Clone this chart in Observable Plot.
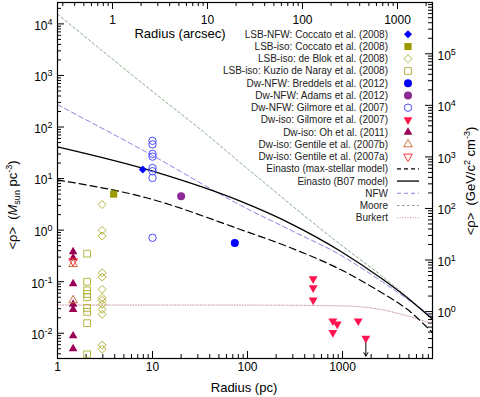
<!DOCTYPE html>
<html><head><meta charset="utf-8">
<script src="https://cdn.jsdelivr.net/npm/d3@7"></script>
<script src="https://cdn.jsdelivr.net/npm/@observablehq/plot@0.6"></script>
<style>
body{margin:0;background:#fff;}
svg{font-family:"Liberation Sans",Arial,Helvetica,sans-serif;}
</style>
</head><body><div id="chart"></div>
<script>
// ---- scales / conversion constants ----
const xDomain = [1, 8850];
const yDomain = [0.00324, 26000];
const pcPerArcsec = 3.79;
const gevPerMsun = 37.97;

// ---- tick values ----
const xMajor = [1, 10, 100, 1000];
const xMinor = [2,3,4,5,6,7,8,9,20,30,40,50,60,70,80,90,200,300,400,500,600,700,800,900,2000,3000,4000,5000,6000,7000,8000];
const arcMajor = [1, 10, 100, 1000];
const arcMinor = [0.3,0.4,0.5,0.6,0.7,0.8,0.9,2,3,4,5,6,7,8,9,20,30,40,50,60,70,80,90,200,300,400,500,600,700,800,900,2000];
const yMajorExp = [-2, -1, 0, 1, 2, 3, 4];
const gevMajorExp = [0, 1, 2, 3, 4, 5];

// ---- data (radius in pc, <rho> in Msun/pc^3) ----
const lsbNfwCoccatoX = [7.9], lsbNfwCoccatoY = [15];
const lsbIsoCoccatoX = [3.9], lsbIsoCoccatoY = [5.0];
const lsbIsoDeBlokX = 2.95;
const lsbIsoDeBlokY = [3.14, 0.99, 0.77, 0.149, 0.123, 0.071, 0.049, 0.0436, 0.0365, 0.029, 0.0233, 0.0059, 0.0049];
const lsbIsoKuzioX = 2.05;
const lsbIsoKuzioY = [0.35, 0.1, 0.068, 0.058, 0.05, 0.031, 0.026, 0.0157, 0.0039];
const dwNfwBreddelsX = [73.5], dwNfwBreddelsY = [0.56];
const dwNfwAdamsX = [20], dwNfwAdamsY = [4.55];
const dwNfwGilmoreX = 10;
const dwNfwGilmoreY = [54, 46, 30, 26.7, 16, 13.9, 10.3, 0.71];
const dwIsoGilmoreX = [491, 491, 491, 791, 880, 791, 1463, 1760];
const dwIsoGilmoreY = [0.114, 0.076, 0.044, 0.0173, 0.015, 0.0103, 0.0173, 0.008];
const dwIsoOhX = 1.46;
const dwIsoOhY = [0.38, 0.29, 0.091, 0.0365, 0.029, 0.0089, 0.005];
const dwIsoGentileBX = 1.46, dwIsoGentileBY = [0.22, 0.0436];
const dwIsoGentileAX = 1.46, dwIsoGentileAY = [0.25];
const upperLimitX = [1760], upperLimitFrom = [0.0075], upperLimitTo = [0.0036];

// ---- model curves ----
const einastoMaxX = [1, 8.8, 84, 284, 953, 2512, 4800, 8850];
const einastoMaxY = [9.4, 4.2, 1.03, 0.455, 0.172, 0.0632, 0.0291, 0.0103];
const einastoB07X = [1, 10, 84, 284, 953, 2512, 4800, 8850];
const einastoB07Y = [41, 13.9, 3.64, 1.34, 0.39, 0.119, 0.049, 0.0187];
const nfwX = [1, 10, 84, 284, 953, 2512, 8850];
const nfwY = [271, 28, 3.05, 1.0, 0.328, 0.105, 0.0207];
const mooreX = [1, 10, 32, 100, 1000, 2512, 8850];
const mooreY = [15500, 490, 90, 15.5, 0.49, 0.135, 0.019];
const burkertX = [1, 100, 953, 2512, 4800, 8850];
const burkertY = [0.0353, 0.0352, 0.034, 0.029, 0.0217, 0.0154];

// ---- legend ----
const legendLabels = [
  "LSB-NFW: Coccato et al. (2008)", "LSB-iso: Coccato et al. (2008)", "LSB-iso: de Blok et al. (2008)",
  "LSB-iso: Kuzio de Naray et al. (2008)", "Dw-NFW: Breddels et al. (2012)", "Dw-NFW: Adams et al. (2012)",
  "Dw-NFW: Gilmore et al. (2007)", "Dw-iso: Gilmore et al. (2007)", "Dw-iso: Oh et al. (2011)",
  "Dw-iso: Gentile et al. (2007b)", "Dw-iso: Gentile et al. (2007a)", "Einasto (max-stellar model)",
  "Einasto (B07 model)", "NFW", "Moore", "Burkert"];

// ---- styles ----
const C = {
  blue: "#0000ff", olive: "#999900", oliveOpen: "#b5b540", purple: "#8e2a96", blueOpen: "#4a4aff",
  red: "#ff1450", oh: "#990055", gentB: "#cc7040", gentA: "#ff3333", nfw: "#7878e0", moore: "#78a078", burkert: "#c08888"
};
const sqrt3 = Math.sqrt(3);
const triDown = {draw(ctx, size) { const y = -Math.sqrt(size / (sqrt3 * 3)); ctx.moveTo(0, -y * 2); ctx.lineTo(-sqrt3 * y, y); ctx.lineTo(sqrt3 * y, y); ctx.closePath(); }};
const triUp = d3.symbolTriangle;

const pts = (X, Y) => Y.map((y, i) => ({x: Array.isArray(X) ? X[i] : X, y}));
const curve = (X, Y) => X.map((x, i) => ({x, y: Y[i]}));

const W = 480, H = 397, mL = 57, mR = 48, mT = 2, mB = 39;
const fw = W - mL - mR, fh = H - mT - mB;
const TL = 7, TS = 4;

const plot = Plot.plot({
  width: W, height: H, marginLeft: mL, marginRight: mR, marginTop: mT, marginBottom: mB,
  x: {type: "log", domain: xDomain, axis: null},
  y: {type: "log", domain: yDomain, axis: null},
  style: {background: "white", fontFamily: "Liberation Sans, Arial, sans-serif", fontSize: "12px", overflow: "visible"},
  marks: [
    // ticks (inward)
    Plot.ruleX(xMajor, {x: d => d, insetTop: fh - TL, stroke: "black"}),
    Plot.ruleX(xMinor, {x: d => d, insetTop: fh - TS, stroke: "black"}),
    Plot.ruleX(arcMajor, {x: d => d * pcPerArcsec, insetBottom: fh - TL, stroke: "black"}),
    Plot.ruleX(arcMinor, {x: d => d * pcPerArcsec, insetBottom: fh - TS, stroke: "black"}),
    Plot.ruleY(yMajorExp, {y: d => 10 ** d, insetRight: fw - TL, stroke: "black"}),
    Plot.ruleY(d3.range(-3, 5).flatMap(e => d3.range(2, 10).map(m => m * 10 ** e)).filter(v => v > yDomain[0] && v < yDomain[1]), {y: d => d, insetRight: fw - TS, stroke: "black"}),
    Plot.ruleY(gevMajorExp, {y: d => 10 ** d / gevPerMsun, insetLeft: fw - TL, stroke: "black"}),
    Plot.ruleY(d3.range(-1, 6).flatMap(e => d3.range(2, 10).map(m => m * 10 ** e)).filter(v => v / gevPerMsun > yDomain[0] && v / gevPerMsun < yDomain[1]), {y: d => d / gevPerMsun, insetLeft: fw - TS, stroke: "black"}),
    // tick labels
    Plot.text(xMajor, {x: d => d, frameAnchor: "bottom", dy: 12, text: d => String(d), fontSize: 12}),
    Plot.text(arcMajor, {x: d => d * pcPerArcsec, frameAnchor: "top", dy: 13, text: d => String(d), fontSize: 12}),
    Plot.text(yMajorExp, {y: d => 10 ** d, frameAnchor: "left", dx: -5, dy: 2, textAnchor: "end", text: d => "10^" + d, fontSize: 12}),
    Plot.text(gevMajorExp, {y: d => 10 ** d / gevPerMsun, frameAnchor: "right", dx: 5, dy: 2, textAnchor: "start", text: d => "10^" + d, fontSize: 12}),
    // model curves
    Plot.line(curve(burkertX, burkertY), {x: "x", y: "y", stroke: C.burkert, strokeWidth: 0.9, strokeDasharray: "1,1.6", curve: "monotone-x"}),
    Plot.line(curve(mooreX, mooreY), {x: "x", y: "y", stroke: C.moore, strokeWidth: 0.9, strokeDasharray: "2.5,2.5", curve: "monotone-x"}),
    Plot.line(curve(nfwX, nfwY), {x: "x", y: "y", stroke: C.nfw, strokeWidth: 0.9, strokeDasharray: "5,3", curve: "monotone-x"}),
    Plot.line(curve(einastoMaxX, einastoMaxY), {x: "x", y: "y", stroke: "black", strokeWidth: 1.2, strokeDasharray: "7,4", curve: "monotone-x"}),
    Plot.line(curve(einastoB07X, einastoB07Y), {x: "x", y: "y", stroke: "black", strokeWidth: 1.3, curve: "monotone-x"}),
    // upper limit arrow
    Plot.arrow(upperLimitX.map((x, i) => ({x, y1: upperLimitFrom[i], y2: upperLimitTo[i]})), {x: "x", y1: "y1", y2: "y2", stroke: "black", strokeWidth: 1, headLength: 6, headAngle: 60}),
    // data points
    Plot.dot(pts(lsbIsoDeBlokX, lsbIsoDeBlokY), {x: "x", y: "y", symbol: "diamond2", r: 3.6, stroke: C.oliveOpen, fill: "none", strokeWidth: 1}),
    Plot.dot(pts(lsbIsoKuzioX, lsbIsoKuzioY), {x: "x", y: "y", symbol: "square2", r: 4.3, stroke: C.oliveOpen, fill: "none", strokeWidth: 1}),
    Plot.dot(pts(dwIsoOhX, dwIsoOhY), {x: "x", y: "y", symbol: triUp, r: 3.2, fill: C.oh}),
    Plot.dot(pts(dwIsoGentileBX, dwIsoGentileBY), {x: "x", y: "y", symbol: triUp, r: 3.2, stroke: C.gentB, fill: "none", strokeWidth: 1}),
    Plot.dot(pts(dwIsoGentileAX, dwIsoGentileAY), {x: "x", y: "y", symbol: triDown, r: 3.2, stroke: C.gentA, fill: "none", strokeWidth: 1}),
    Plot.dot(pts(dwNfwGilmoreX, dwNfwGilmoreY), {x: "x", y: "y", symbol: "circle", r: 3.7, stroke: C.blueOpen, fill: "none", strokeWidth: 1}),
    Plot.dot(pts(lsbIsoCoccatoX, lsbIsoCoccatoY), {x: "x", y: "y", symbol: "square", r: 4, fill: C.olive}),
    Plot.dot(pts(lsbNfwCoccatoX, lsbNfwCoccatoY), {x: "x", y: "y", symbol: "diamond2", r: 3.6, fill: C.blue}),
    Plot.dot(pts(dwNfwBreddelsX, dwNfwBreddelsY), {x: "x", y: "y", symbol: "circle", r: 4, fill: C.blue}),
    Plot.dot(pts(dwNfwAdamsX, dwNfwAdamsY), {x: "x", y: "y", symbol: "circle", r: 4, fill: C.purple}),
    Plot.dot(pts(dwIsoGilmoreX, dwIsoGilmoreY), {x: "x", y: "y", symbol: triDown, r: 3.3, fill: C.red}),
    Plot.frame({stroke: "black", strokeWidth: 1.2})
  ]
});

document.getElementById("chart").appendChild(plot);
const svg = d3.select(plot);

// superscripts in tick labels
svg.selectAll("text").each(function() {
  const t = this.textContent;
  if (t.startsWith("10^")) {
    const e = t.slice(3);
    const s = d3.select(this); s.text(null);
    s.append("tspan").text("10");
    s.append("tspan").attr("dy", -5).attr("font-size", 9).text(e);
  }
});

// axis titles
const txt = (x, y, size, anchor, rot) => svg.append("text").attr("x", x).attr("y", y)
  .attr("font-size", size).attr("text-anchor", anchor).attr("fill", "black")
  .attr("transform", rot ? `rotate(-90,${x},${y})` : null);
txt(244, 392, 13, "middle").text("Radius (pc)");
txt(180, 38, 13, "middle").text("Radius (arcsec)");
{
  const t = txt(17, 205, 13, "middle", true);
  t.append("tspan").text("<ρ>  (");
  t.append("tspan").attr("font-style", "italic").text("M");
  t.append("tspan").attr("dy", 3).attr("font-size", 9).text("sun");
  t.append("tspan").attr("dy", -3).text(" pc");
  t.append("tspan").attr("dy", -5).attr("font-size", 9).text("-3");
  t.append("tspan").attr("dy", 5).text(")");
}
{
  const t = txt(475, 181, 13, "middle", true);
  t.append("tspan").text("<ρ>  (GeV/c");
  t.append("tspan").attr("dy", -5).attr("font-size", 9).text("2");
  t.append("tspan").attr("dy", 5).text(" cm");
  t.append("tspan").attr("dy", -5).attr("font-size", 9).text("-3");
  t.append("tspan").attr("dy", 5).text(")");
}

// legend
const lg = svg.append("g").attr("font-size", 10);
const sym = (type, r) => d3.symbol(type, r * r * Math.PI)();
const legendItems = [
  {kind: "sym", type: d3.symbolDiamond2, r: 3.6, fill: C.blue},
  {kind: "sym", type: d3.symbolSquare, r: 4, fill: C.olive},
  {kind: "sym", type: d3.symbolDiamond2, r: 3.6, stroke: C.oliveOpen},
  {kind: "sym", type: d3.symbolSquare2, r: 4.3, stroke: C.oliveOpen},
  {kind: "sym", type: d3.symbolCircle, r: 4, fill: C.blue},
  {kind: "sym", type: d3.symbolCircle, r: 4, fill: C.purple},
  {kind: "sym", type: d3.symbolCircle, r: 3.7, stroke: C.blueOpen},
  {kind: "sym", type: triDown, r: 3.3, fill: C.red},
  {kind: "sym", type: triUp, r: 3.2, fill: C.oh},
  {kind: "sym", type: triUp, r: 3.2, stroke: C.gentB},
  {kind: "sym", type: triDown, r: 3.2, stroke: C.gentA},
  {kind: "line", stroke: "black", w: 1.2, dash: "4,3"},
  {kind: "line", stroke: "black", w: 1.3, dash: null},
  {kind: "line", stroke: C.nfw, w: 0.9, dash: "4,3"},
  {kind: "line", stroke: C.moore, w: 0.9, dash: "2.5,2.5"},
  {kind: "line", stroke: C.burkert, w: 0.9, dash: "1,1.6"}
];
legendLabels.forEach((label, i) => {
  const y = 34.3 + i * 12.23;
  lg.append("text").attr("x", 388).attr("y", y).attr("dy", "0.35em").attr("text-anchor", "end").attr("fill", "#222").text(label);
  const it = legendItems[i];
  if (it.kind === "sym") {
    lg.append("path").attr("transform", `translate(408,${y})`).attr("d", sym(it.type, it.r))
      .attr("fill", it.fill || "none").attr("stroke", it.stroke || "none").attr("stroke-width", 1);
  } else {
    lg.append("line").attr("x1", 397).attr("x2", 419).attr("y1", y).attr("y2", y)
      .attr("stroke", it.stroke).attr("stroke-width", it.w).attr("stroke-dasharray", it.dash);
  }
});
</script>
</body></html>
